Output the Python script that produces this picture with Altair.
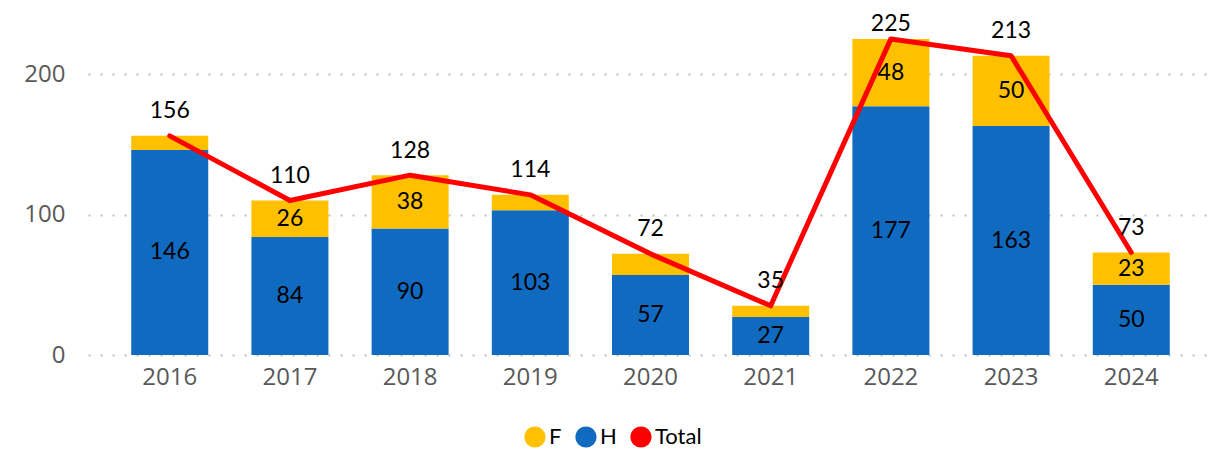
import altair as alt
import pandas as pd

years = ["2016", "2017", "2018", "2019", "2020", "2021", "2022", "2023", "2024"]
h_vals = [146, 84, 90, 103, 57, 27, 177, 163, 50]
f_vals = [10, 26, 38, 11, 15, 8, 48, 50, 23]
totals = [156, 110, 128, 114, 72, 35, 225, 213, 73]
series_names = ["F", "H", "Total"]
series_colors = ["#FFC000", "#0F6AC0", "#FF0000"]
y_ticks = [0, 100, 200]
f_label_min = 20

wide = pd.DataFrame({"year": years, "H": h_vals, "F": f_vals, "Total": totals})
long = wide.melt(id_vars="year", value_vars=["H", "F"], var_name="series", value_name="value")
long["order"] = long["series"].map({"H": 0, "F": 1})

FONT_NUM = "Lato"
FONT_AX = "Open Sans"
Y_MAX = 241.3

color_scale = alt.Scale(domain=series_names, range=series_colors)
x_enc = alt.X(
    "year:N",
    title=None,
    scale=alt.Scale(paddingInner=0.36, paddingOuter=0.36),
    axis=alt.Axis(domain=False, ticks=False, labelAngle=0, labelFontSize=24,
                  labelColor="#595959", labelPadding=10, labelFont=FONT_AX, grid=False),
)
y_scale = alt.Scale(domain=[0, Y_MAX], nice=False)
y_axis = alt.Axis(values=y_ticks, domain=False, ticks=False, grid=True, gridDash=[2, 10],
                  gridColor="#BFBFBF", gridWidth=2, labelFontSize=24, labelColor="#595959",
                  labelPadding=23, minExtent=80, maxExtent=80, labelFont=FONT_AX)

bars = alt.Chart(long).mark_bar(size=77).encode(
    x=x_enc,
    y=alt.Y("value:Q", stack="zero", scale=y_scale, axis=y_axis, title=None),
    color=alt.Color(
        "series:N", scale=color_scale,
        legend=alt.Legend(title=None, orient="none", legendX=436, legendY=410,
                          direction="horizontal", symbolType="circle", symbolSize=450,
                          symbolStrokeWidth=0, labelFontSize=22, labelColor="#000000",
                          labelFont=FONT_NUM, columnPadding=13, labelOffset=3),
    ),
    order=alt.Order("order:Q"),
)

h_text = alt.Chart(wide).transform_calculate(pos="datum.H / 2").mark_text(
    fontSize=23, font=FONT_NUM, color="#000000", baseline="middle"
).encode(x=x_enc, y=alt.Y("pos:Q", scale=y_scale), text="H:Q")

f_text = alt.Chart(wide).transform_filter(f"datum.F >= {f_label_min}").transform_calculate(
    pos="datum.H + datum.F / 2"
).mark_text(fontSize=23, font=FONT_NUM, color="#000000", baseline="middle").encode(
    x=x_enc, y=alt.Y("pos:Q", scale=y_scale), text="F:Q"
)

line = alt.Chart(wide).transform_calculate(series="'Total'").mark_line(
    strokeWidth=5, strokeCap="round", strokeJoin="round"
).encode(
    x=x_enc, y=alt.Y("Total:Q", scale=y_scale),
    color=alt.Color("series:N", scale=color_scale),
)

t_text = alt.Chart(wide).transform_calculate(
    pos="min(datum.Total + 17.5, 235.5)"
).mark_text(
    fontSize=23, font=FONT_NUM, color="#000000", baseline="middle"
).encode(x=x_enc, y=alt.Y("pos:Q", scale=y_scale), text="Total:Q")

chart = alt.layer(bars, h_text, f_text, line, t_text).properties(
    width=1125, height=339,
    autosize=alt.AutoSizeParams(type="none"),
    padding={"left": 80, "top": 8, "right": 8, "bottom": 97},
).configure_view(stroke=None)

chart.save("out.html", embed_options={"renderer": "svg", "actions": False})
